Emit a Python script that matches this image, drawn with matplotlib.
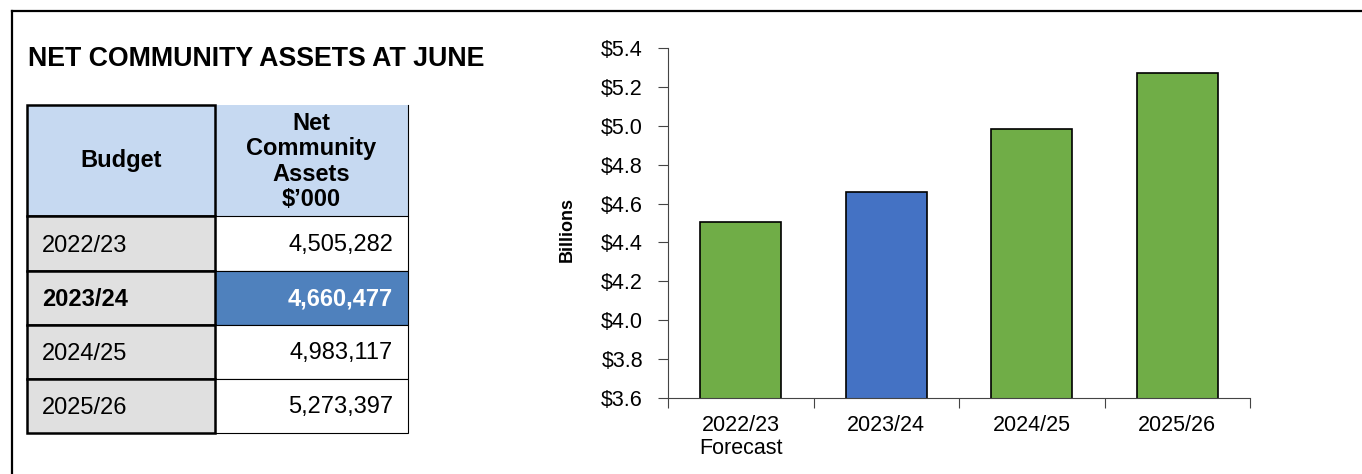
import matplotlib
matplotlib.use("Agg")
import matplotlib.pyplot as plt
from matplotlib.patches import Rectangle
import numpy as np

plt.rcParams['font.family'] = ['Liberation Sans', 'DejaVu Sans']

# data
years = ['2022/23', '2023/24', '2024/25', '2025/26']
x_labels = ['2022/23\nForecast', '2023/24', '2024/25', '2025/26']
assets_k = [4505282, 4660477, 4983117, 5273397]   # $'000
highlight = '2023/24'
y_ticks = [3.6, 3.8, 4.0, 4.2, 4.4, 4.6, 4.8, 5.0, 5.2, 5.4]

green = '#70AD47'
blue = '#4472C4'
hdr_blue = '#C6D9F1'
cell_blue = '#4F81BD'
grey = '#E0E0E0'

W, H = 1362, 474
fig = plt.figure(figsize=(W / 100, H / 100), dpi=100)

# pixel-space canvas for the frame, title and table
bg = fig.add_axes([0, 0, 1, 1])
bg.set_xlim(0, W)
bg.set_ylim(H, 0)
bg.axis('off')

bg.plot([12, W], [11, 11], color='black', lw=1.6)
bg.plot([12, 12], [11, H], color='black', lw=1.6)

bg.text(28, 59, 'NET COMMUNITY ASSETS AT JUNE', fontsize=19.3, fontweight='bold',
        ha='left', va='center')

# table geometry
x0, x1, x2 = 27, 215, 408
rows = [105, 216, 271, 325, 379, 433]
tfs = 17

# header
bg.add_patch(Rectangle((x1, rows[0]), x2 - x1, rows[1] - rows[0], facecolor=hdr_blue,
                       edgecolor='none'))
bg.plot([x2, x2], [rows[0], rows[1]], color='black', lw=0.8)
bg.add_patch(Rectangle((x0, rows[0]), x1 - x0, rows[1] - rows[0], facecolor=hdr_blue,
                       edgecolor='black', lw=1.8))
bg.text((x0 + x1) / 2, (rows[0] + rows[1]) / 2, 'Budget', fontsize=tfs,
        fontweight='bold', ha='center', va='center')
bg.text((x1 + x2) / 2, (rows[0] + rows[1]) / 2 + 1, 'Net\nCommunity\nAssets\n$\u2019000',
        fontsize=tfs, fontweight='bold', ha='center', va='center', linespacing=1.12)

for i, (yr, v) in enumerate(zip(years, assets_k)):
    top, bot = rows[i + 1], rows[i + 2]
    hl = yr == highlight
    bg.add_patch(Rectangle((x1, top), x2 - x1, bot - top,
                           facecolor=cell_blue if hl else 'white',
                           edgecolor='black', lw=0.8))
    bg.add_patch(Rectangle((x0, top), x1 - x0, bot - top, facecolor=grey,
                           edgecolor='black', lw=1.8))
    bg.text(x0 + 15, (top + bot) / 2 + 2, yr, fontsize=tfs,
            fontweight='bold' if hl else 'normal', ha='left', va='center')
    bg.text(x2 - 15, (top + bot) / 2 + 1, f'{v:,}', fontsize=tfs,
            fontweight='bold' if hl else 'normal', ha='right', va='center',
            color='white' if hl else 'black')

# bar chart
ax = fig.add_axes([668 / W, 1 - 398 / H, 582 / W, 350 / H])
vals = np.array(assets_k) / 1e6
colors = [blue if y == highlight else green for y in years]
pos = np.arange(len(years))
ax.bar(pos, vals, width=0.56, color=colors, edgecolor='black', linewidth=1.2)
ax.set_xlim(-0.5, len(years) - 0.5)
ax.set_ylim(y_ticks[0], y_ticks[-1])
ax.set_yticks(y_ticks)
ax.set_yticklabels([f'${t:.1f}' for t in y_ticks], fontsize=15.5)
ax.set_xticks(pos)
ax.set_xticklabels(x_labels, fontsize=15.5, linespacing=1.15)
ax.tick_params(axis='x', length=0, pad=12)
ax.set_xticks(np.arange(-0.5, len(years)), minor=True)
ax.tick_params(axis='x', which='minor', length=7, width=0.8, color='#444444')
ax.tick_params(axis='y', length=7, width=0.8, color='#444444', pad=11)
for s in ['top', 'right']:
    ax.spines[s].set_visible(False)
for s in ['left', 'bottom']:
    ax.spines[s].set_linewidth(0.8)
    ax.spines[s].set_color('#444444')
ax.set_ylabel('Billions', fontsize=13, fontweight='bold')
ax.yaxis.set_label_coords(-0.158, 0.48)

fig.savefig('out.png', dpi=100)
